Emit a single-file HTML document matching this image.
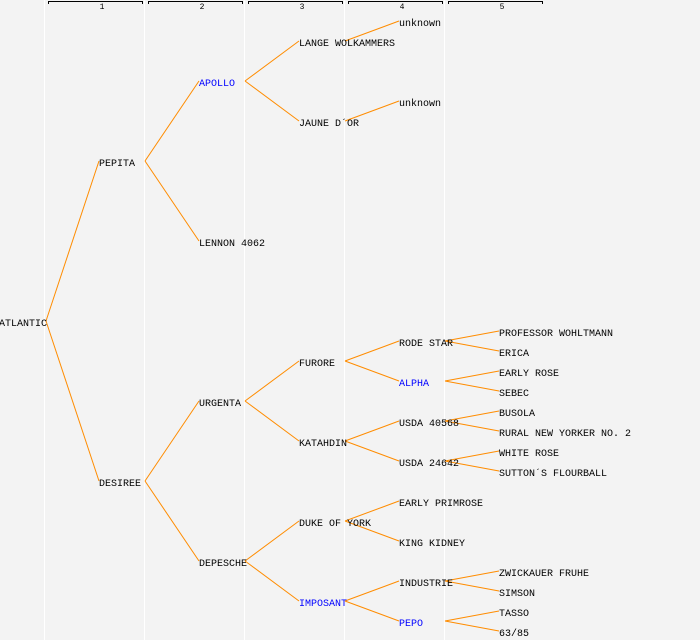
<!DOCTYPE html>
<html><head><meta charset="utf-8"><style>
html,body{margin:0;padding:0;background:#f3f3f3;}
svg{display:block;}
text{font-family:"Liberation Mono",monospace;font-size:10px;fill:#000;}
.b{fill:#0000ff;}
.h{font-size:8px;}
line.c{stroke:#ff8c00;stroke-width:1;}
</style></head><body>
<svg width="700" height="640" xmlns="http://www.w3.org/2000/svg">
<rect width="700" height="640" fill="#f3f3f3"/>
<g stroke="#ffffff" stroke-width="1">
<line x1="44.5" y1="0" x2="44.5" y2="640"/>
<line x1="144.5" y1="0" x2="144.5" y2="640"/>
<line x1="244.5" y1="0" x2="244.5" y2="640"/>
<line x1="344.5" y1="0" x2="344.5" y2="640"/>
<line x1="444.5" y1="0" x2="444.5" y2="640"/>
</g>
<g stroke="#000" stroke-width="1" fill="none">
<path d="M48.5 4V1.5H142.5V4"/>
<path d="M148.5 4V1.5H242.5V4"/>
<path d="M248.5 4V1.5H342.5V4"/>
<path d="M348.5 4V1.5H442.5V4"/>
<path d="M448.5 4V1.5H542.5V4"/>
</g>
<g text-anchor="middle" class="h">
<text class="h" x="102" y="9">1</text>
<text class="h" x="202" y="9">2</text>
<text class="h" x="302" y="9">3</text>
<text class="h" x="402" y="9">4</text>
<text class="h" x="502" y="9">5</text>
</g>
<g>
<!-- connectors -->
<line class="c" x1="46" y1="321" x2="99" y2="161"/>
<line class="c" x1="46" y1="321" x2="99" y2="481"/>
<line class="c" x1="145" y1="161" x2="199" y2="81"/>
<line class="c" x1="145" y1="161" x2="199" y2="241"/>
<line class="c" x1="145" y1="481" x2="199" y2="401"/>
<line class="c" x1="145" y1="481" x2="199" y2="561"/>
<line class="c" x1="245" y1="81" x2="299" y2="41"/>
<line class="c" x1="245" y1="81" x2="299" y2="121"/>
<line class="c" x1="245" y1="401" x2="299" y2="361"/>
<line class="c" x1="245" y1="401" x2="299" y2="441"/>
<line class="c" x1="245" y1="561" x2="299" y2="521"/>
<line class="c" x1="245" y1="561" x2="299" y2="601"/>
<line class="c" x1="345" y1="41" x2="399" y2="21"/>
<line class="c" x1="345" y1="121" x2="399" y2="101"/>
<line class="c" x1="345" y1="361" x2="399" y2="341"/>
<line class="c" x1="345" y1="361" x2="399" y2="381"/>
<line class="c" x1="345" y1="441" x2="399" y2="421"/>
<line class="c" x1="345" y1="441" x2="399" y2="461"/>
<line class="c" x1="345" y1="521" x2="399" y2="501"/>
<line class="c" x1="345" y1="521" x2="399" y2="541"/>
<line class="c" x1="345" y1="601" x2="399" y2="581"/>
<line class="c" x1="345" y1="601" x2="399" y2="621"/>
<line class="c" x1="445" y1="341" x2="499" y2="331"/>
<line class="c" x1="445" y1="341" x2="499" y2="351"/>
<line class="c" x1="445" y1="381" x2="499" y2="371"/>
<line class="c" x1="445" y1="381" x2="499" y2="391"/>
<line class="c" x1="445" y1="421" x2="499" y2="411"/>
<line class="c" x1="445" y1="421" x2="499" y2="431"/>
<line class="c" x1="445" y1="461" x2="499" y2="451"/>
<line class="c" x1="445" y1="461" x2="499" y2="471"/>
<line class="c" x1="445" y1="581" x2="499" y2="571"/>
<line class="c" x1="445" y1="581" x2="499" y2="591"/>
<line class="c" x1="445" y1="621" x2="499" y2="611"/>
<line class="c" x1="445" y1="621" x2="499" y2="631"/>
</g>
<g>
<text x="-1" y="326">ATLANTIC</text>
<text x="99" y="166">PEPITA</text>
<text x="99" y="486">DESIREE</text>
<text class="b" x="199" y="86">APOLLO</text>
<text x="199" y="246">LENNON 4062</text>
<text x="199" y="406">URGENTA</text>
<text x="199" y="566">DEPESCHE</text>
<text x="299" y="46">LANGE WOLKAMMERS</text>
<text x="299" y="126">JAUNE D´OR</text>
<text x="299" y="366">FURORE</text>
<text x="299" y="446">KATAHDIN</text>
<text x="299" y="526">DUKE OF YORK</text>
<text class="b" x="299" y="606">IMPOSANT</text>
<text x="399" y="26">unknown</text>
<text x="399" y="106">unknown</text>
<text x="399" y="346">RODE STAR</text>
<text class="b" x="399" y="386">ALPHA</text>
<text x="399" y="426">USDA 40568</text>
<text x="399" y="466">USDA 24642</text>
<text x="399" y="506">EARLY PRIMROSE</text>
<text x="399" y="546">KING KIDNEY</text>
<text x="399" y="586">INDUSTRIE</text>
<text class="b" x="399" y="626">PEPO</text>
<text x="499" y="336">PROFESSOR WOHLTMANN</text>
<text x="499" y="356">ERICA</text>
<text x="499" y="376">EARLY ROSE</text>
<text x="499" y="396">SEBEC</text>
<text x="499" y="416">BUSOLA</text>
<text x="499" y="436">RURAL NEW YORKER NO. 2</text>
<text x="499" y="456">WHITE ROSE</text>
<text x="499" y="476">SUTTON´S FLOURBALL</text>
<text x="499" y="576">ZWICKAUER FRUHE</text>
<text x="499" y="596">SIMSON</text>
<text x="499" y="616">TASSO</text>
<text x="499" y="636">63/85</text>
</g>
</svg>
</body></html>
